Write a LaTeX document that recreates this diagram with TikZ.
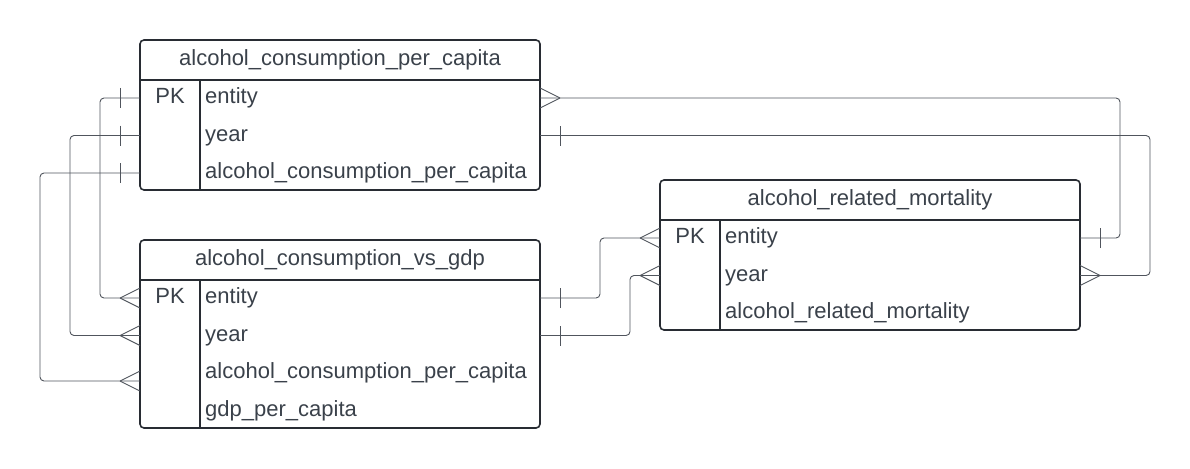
\documentclass[tikz,border=0pt]{standalone}
\usepackage{fontspec}
\setmainfont{Liberation Sans}
\usetikzlibrary{calc}
\definecolor{txtgray}{HTML}{3A414A}
\definecolor{boxgray}{HTML}{282C33}
\definecolor{linegray}{HTML}{50555D}
\tikzset{
  tbl/.style={draw=boxgray, line width=1.6pt, rounded corners=4pt, inner sep=0pt, outer sep=0pt},
  tblline/.style={draw=boxgray, line width=1.6pt},
  conn/.style={draw=linegray, line width=0.9pt, rounded corners=4pt},
  head/.style={text=txtgray, inner sep=0pt, text height=15.5pt, text depth=4.5pt},
  field/.style={head, anchor=west},
  crow/.pic={\draw[conn] (-20,0) -- (0,-10) (-20,0) -- (0,10);},
  bar/.pic={\draw[conn] (-20,-10) -- (-20,10);}
}

\begin{document}
\begin{tikzpicture}[x=1pt, y=-1pt, font=\fontsize{22}{26}\selectfont]
    \useasboundingbox (0,0) rectangle (1190,468);
    \node[tbl, minimum width=400pt, minimum height=150pt] (t1) at (340,115) {};
    \draw[tblline] (140,80) -- (540,80) (200,80) -- (200,190);
    \node[head] (t1h) at (340,60) {alcohol\_consumption\_per\_capita};
    \node[head] (t1pk) at (170,98) {PK};
    \node[field] (t1e) at (205,98) {entity};
    \node[field] (t1y) at (205,135.5) {year};
    \node[field] (t1a) at (205,173) {alcohol\_consumption\_per\_capita};

    \node[tbl, minimum width=400pt, minimum height=188pt] (t2) at (340,334) {};
    \draw[tblline] (140,280) -- (540,280) (200,280) -- (200,428);
    \node[head] (t2h) at (340,260) {alcohol\_consumption\_vs\_gdp};
    \node[head] (t2pk) at (170,298) {PK};
    \node[field] (t2e) at (205,298) {entity};
    \node[field] (t2y) at (205,335.5) {year};
    \node[field] (t2a) at (205,373) {alcohol\_consumption\_per\_capita};
    \node[field] (t2g) at (205,410.5) {gdp\_per\_capita};

    \node[tbl, minimum width=420pt, minimum height=150pt] (t3) at (870,255) {};
    \draw[tblline] (660,220) -- (1080,220) (720,220) -- (720,330);
    \node[head] (t3h) at (870,200) {alcohol\_related\_mortality};
    \node[head] (t3pk) at (690,238) {PK};
    \node[field] (t3e) at (725,238) {entity};
    \node[field] (t3y) at (725,275.5) {year};
    \node[field] (t3m) at (725,313) {alcohol\_related\_mortality};

    \draw[conn] (t1.west |- t1e) -- ++(-40,0) |- (t2.west |- t2e);
    \draw[conn] (t1.west |- t1y) -- ++(-70,0) |- (t2.west |- t2y);
    \draw[conn] (t1.west |- t1a) -- ++(-100,0) |- ($(t2.west |- t2a)+(0,8)$);
    \draw[conn] (t1.east |- t1e) -- ++(580,0) |- (t3.east |- t3e);
    \draw[conn] (t1.east |- t1y) -- ++(610,0) |- (t3.east |- t3y);
    \draw[conn] (t2.east |- t2e) -- ++(60,0) |- (t3.west |- t3e);
    \draw[conn] (t2.east |- t2y) -- ++(90,0) |- (t3.west |- t3y);

    \path (t1.west |- t1e) pic{bar} (t1.west |- t1y) pic{bar} (t1.west |- t1a) pic{bar};
    \path (t2.west |- t2e) pic{crow} (t2.west |- t2y) pic{crow} ($(t2.west |- t2a)+(0,8)$) pic{crow};
    \path (t1.east |- t1e) pic[rotate=180]{crow} (t1.east |- t1y) pic[rotate=180]{bar};
    \path (t2.east |- t2e) pic[rotate=180]{bar} (t2.east |- t2y) pic[rotate=180]{bar};
    \path (t3.west |- t3e) pic{crow} (t3.west |- t3y) pic{crow};
    \path (t3.east |- t3e) pic[rotate=180]{bar} (t3.east |- t3y) pic[rotate=180]{crow};
\end{tikzpicture}
\end{document}
